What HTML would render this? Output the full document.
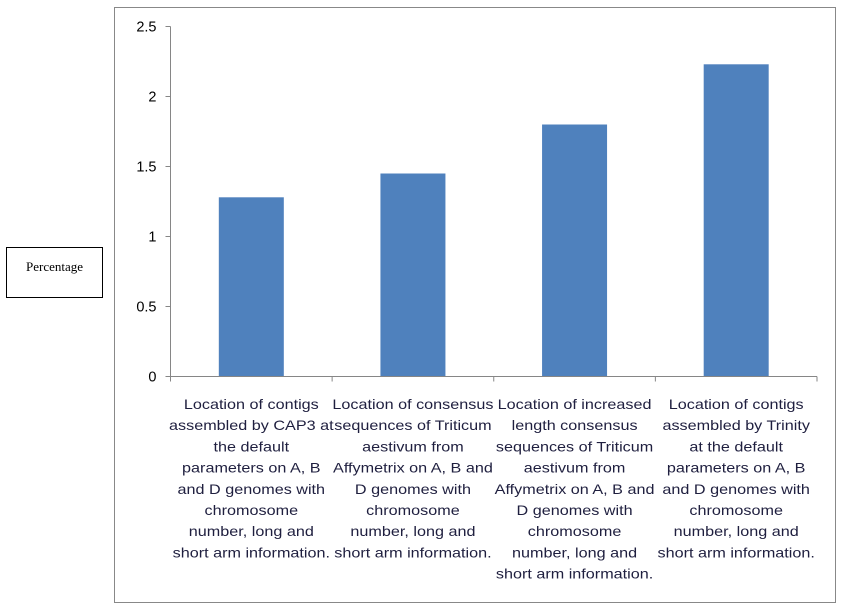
<!DOCTYPE html>
<html><head><meta charset="utf-8"><style>
body{margin:0;width:841px;height:607px;background:#fff;overflow:hidden;font-family:"Liberation Sans",sans-serif}
</style></head><body>
<svg width="841" height="607">
<rect x="114.5" y="7.5" width="721" height="595" fill="#fff" stroke="#888"/>
<rect x="6.5" y="247.5" width="96" height="50" fill="#fff" stroke="#000"/>
<text x="54.5" y="268" font-family="Liberation Serif" font-size="13" text-anchor="middle" dominant-baseline="middle">Percentage</text>
<g id="g"></g>
</svg>
<script>
const categories=[
["Location of contigs","assembled by CAP3 at","the default","parameters on A, B","and D genomes with","chromosome","number, long and","short arm information."],
["Location of consensus","sequences of Triticum","aestivum from","Affymetrix on A, B and","D genomes with","chromosome","number, long and","short arm information."],
["Location of increased","length consensus","sequences of Triticum","aestivum from","Affymetrix on A, B and","D genomes with","chromosome","number, long and","short arm information."],
["Location of contigs","assembled by Trinity","at the default","parameters on A, B","and D genomes with","chromosome","number, long and","short arm information."]];
const values=[1.28,1.45,1.8,2.23];
const ticks=[0,0.5,1,1.5,2,2.5];
const tickLabels=["0","0.5","1","1.5","2","2.5"];
const NS="http://www.w3.org/2000/svg",g=document.getElementById('g');
const x0=170.5,x1=817,yb=376.5,yt=26.5,ymax=2.5;
const y=v=>yb-(v/ymax)*(yb-yt);
const bw=(x1-x0)/categories.length;
function mk(t,a){const e=document.createElementNS(NS,t);for(const k in a)e.setAttribute(k,a[k]);g.appendChild(e);return e;}
values.forEach((v,i)=>{const cx=x0+bw*(i+0.5);
const r=mk('rect',{x:cx-32.5,y:y(v),width:65,height:yb-y(v),fill:'#4f81bd'});


categories[i].forEach((l,j)=>{const t=mk('text',{x:0,y:409+j*21.2,'text-anchor':'middle','font-size':'14.2',fill:'#1f1f3f',transform:`translate(${cx},0) scale(1.14,1)`});t.textContent=l;

});
});
const ya=mk('line',{x1:x0,y1:yt,x2:x0,y2:yb,stroke:'#868686'});


const xa=mk('line',{x1:x0-5,y1:yb,x2:x1,y2:yb,stroke:'#868686'});


ticks.forEach((v,i)=>{mk('line',{x1:x0-5,y1:y(v),x2:x0,y2:y(v),stroke:'#868686'});
const t=mk('text',{x:x0-14,y:y(v)+5,'text-anchor':'end','font-size':'14.5',fill:'#000'});t.textContent=tickLabels[i];

});
for(let i=0;i<=categories.length;i++){const xx=x0+bw*i;mk('line',{x1:xx,y1:yb,x2:xx,y2:yb+5,stroke:'#868686'});}
</script>
</body></html>
